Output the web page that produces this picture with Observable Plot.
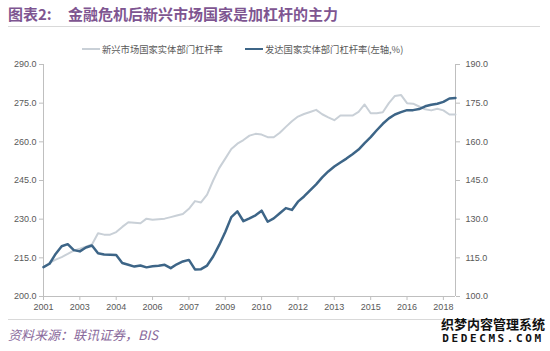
<!DOCTYPE html>
<html><head><meta charset="utf-8">
<script src="https://cdn.jsdelivr.net/npm/d3@7"></script>
<script src="https://cdn.jsdelivr.net/npm/@observablehq/plot@0.6"></script>
<style>
body{margin:0;background:#fff;width:550px;height:351px;position:relative;overflow:hidden;font-family:"Noto Sans CJK SC",sans-serif;}
#title{position:absolute;left:8px;top:3px;font-size:15px;line-height:22px;color:#7e5591;font-weight:bold;white-space:nowrap}
#title .lead{display:inline-block;width:60px}
.rule{position:absolute;left:8px;width:532px;height:0;border-top:1px solid #d9d9d9}
#legend{position:absolute;top:42px;left:0;width:550px;height:14px;font-size:9.3px;line-height:14px;color:#595959;white-space:nowrap}
#legend .item{position:absolute;top:0}
#legend .sw{display:inline-block;vertical-align:middle;margin-right:2px;position:relative;top:-1px}
#chart{position:absolute;left:0;top:52px}
#caption{position:absolute;left:8px;top:326px;font-size:13px;line-height:18px;color:#8a6a9c;font-style:italic;white-space:nowrap}
#wm{position:absolute;left:438px;top:316px;width:110px;text-align:center;color:#111;font-weight:bold;text-shadow:0 0 2px #fff,0 0 2px #fff}
#wm .a{font-size:13px;line-height:16px;letter-spacing:0px}
#wm .b{font-size:11px;line-height:14px;letter-spacing:2.6px;font-family:"DejaVu Sans Mono",monospace}
</style></head>
<body>
<div id="title"><span class="lead">图表2:</span>金融危机后新兴市场国家是加杠杆的主力</div>
<div class="rule" style="top:26px"></div>
<div id="legend"></div>
<div id="chart"></div>
<div class="rule" style="top:319px"></div>
<div id="caption">资料来源：联讯证券，BIS</div>
<div id="wm"><div class="a">织梦内容管理系统</div><div class="b">DEDECMS.COM</div></div>
<script>
// Quarterly observations, 2001Q4 .. 2018Q4 (69 quarters)
const seriesNames = ["新兴市场国家实体部门杠杆率", "发达国家实体部门杠杆率(左轴,%)"];
const seriesColors = ["#c9d0d7", "#3d6587"];

// Developed economies, left axis (%)
const developed = [
  211.4, 212.7, 216.5, 219.5, 220.3, 218.0, 217.5, 219.0, 219.8, 216.8,
  216.3, 216.2, 216.1, 213.0, 212.3, 211.6, 212.0, 211.3, 211.7, 211.9,
  212.3, 211.0, 212.5, 213.6, 214.2, 210.5, 210.6, 212.0, 215.5, 220.0,
  225.0, 230.8, 233.0, 229.2, 230.3, 231.5, 233.3, 229.0, 230.3, 232.3,
  234.3, 233.6, 236.8, 238.8, 241.2, 243.5, 246.2, 248.5, 250.4, 252.0,
  253.5, 255.2, 257.0, 259.5, 261.8, 264.5, 267.0, 269.1, 270.6, 271.5,
  272.3, 272.3, 272.7, 273.8, 274.4, 274.8, 275.5, 276.8, 277.0
];
// Emerging economies, right axis (%)
const emerging = [
  111.4, 113.0, 114.3, 115.3, 116.5, 117.8, 118.5, 119.3, 120.2, 124.5,
  124.0, 124.0, 125.0, 127.0, 128.8, 128.6, 128.4, 130.2, 129.8, 130.0,
  130.2, 130.8, 131.4, 132.0, 134.0, 137.0, 136.5, 139.5, 145.0, 149.8,
  153.5, 157.2, 159.3, 160.7, 162.4, 163.1, 162.8, 161.8, 161.8, 163.5,
  165.8, 168.0, 169.8, 170.8, 171.6, 172.4, 170.7, 169.5, 168.4, 170.2,
  170.2, 170.2, 171.6, 174.5, 171.1, 171.1, 171.5, 175.0, 177.8, 178.2,
  175.0, 174.8, 173.7, 172.6, 172.2, 172.8, 172.2, 170.6, 170.6
];

// Category axis labels (every 6th quarter)
const tickLabels = ["2001","2003","2004","2006","2007","2009","2010","2012","2013","2015","2016","2018"];
const tickPositions = tickLabels.map((_, k) => k * 6);
const leftTicks = [200, 215, 230, 245, 260, 275, 290];
const rightTicks = [100, 115, 130, 145, 160, 175, 190];
const offset = leftTicks[0] - rightTicks[0];

const devData = developed.map((v, i) => ({i, v}));
const emData = emerging.map((v, i) => ({i, v: v + offset}));

// legend
const legend = document.getElementById("legend");
[[82, 0, 18, 2], [245, 1, 18, 2.5]].forEach(([left, s, w, sw]) => {
  const item = document.createElement("span");
  item.className = "item";
  item.style.left = left + "px";
  item.innerHTML = `<span class="sw" style="width:${w}px;height:0;border-top:${sw}px solid ${seriesColors[s]}"></span>${seriesNames[s]}`;
  legend.appendChild(item);
});

const axisColor = "#bfbfbf";
const chart = Plot.plot({
  width: 550,
  height: 264,
  marginLeft: 43,
  marginRight: 95,
  marginTop: 12,
  marginBottom: 20,
  style: {fontSize: "9px", fontFamily: "'Liberation Sans', Arial, sans-serif", color: "#595959", background: "transparent"},
  x: {type: "linear", domain: [0, developed.length - 1], axis: null},
  y: {domain: [leftTicks[0], leftTicks[leftTicks.length - 1]], axis: null},
  marks: [
    Plot.axisX(tickPositions, {label: null, tickFormat: d => tickLabels[tickPositions.indexOf(d)], tickSize: 4, tickPadding: 3, stroke: axisColor, fill: "#595959"}),
    Plot.axisY(leftTicks, {label: null, anchor: "left", tickFormat: d => d.toFixed(1), tickSize: 4, tickPadding: 3, stroke: axisColor, fill: "#595959"}),
    Plot.axisY(rightTicks.map(d => d + offset), {label: null, anchor: "right", tickFormat: d => (d - offset).toFixed(1), tickSize: 4, tickPadding: 6, stroke: axisColor, fill: "#595959"}),
    Plot.ruleY([leftTicks[0]], {stroke: axisColor}),
    Plot.ruleX([0, developed.length - 1], {stroke: axisColor}),
    Plot.line(emData, {x: "i", y: "v", stroke: seriesColors[0], strokeWidth: 2, curve: "linear"}),
    Plot.line(devData, {x: "i", y: "v", stroke: seriesColors[1], strokeWidth: 2.5, curve: "linear"})
  ]
});
document.getElementById("chart").appendChild(chart);
</script>
</body></html>
